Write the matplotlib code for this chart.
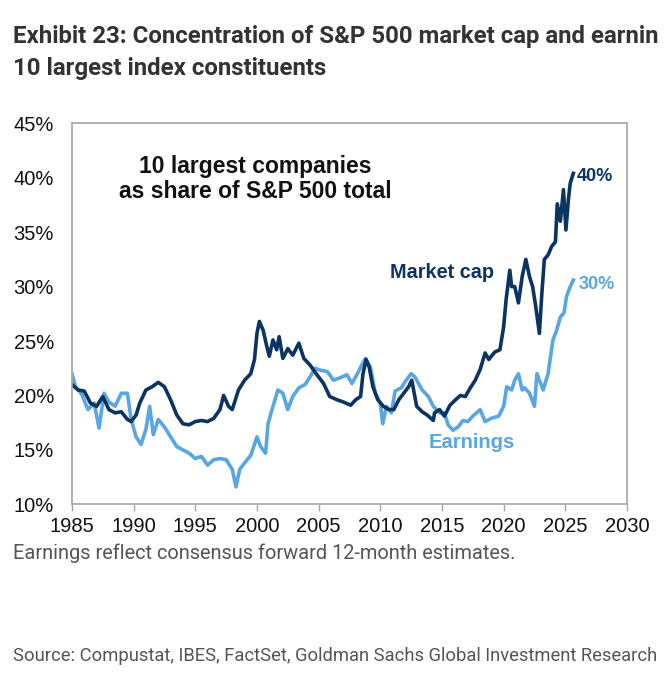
import matplotlib

matplotlib.use("Agg")

import matplotlib.pyplot as plt  # isort: skip

# Share of S&P 500 held by the 10 largest constituents (%)
mcap_years = [
    1985.0, 1985.5, 1986.0, 1986.5, 1987.0, 1987.5, 1988.0, 1988.5, 1989.0, 1989.5,
    1989.8, 1990.2, 1990.5, 1991.0, 1991.5, 1992.0, 1992.5, 1993.0, 1993.5, 1994.0,
    1994.5, 1995.0, 1995.5, 1996.0, 1996.5, 1997.0, 1997.3, 1997.7, 1998.0, 1998.5,
    1999.0, 1999.5, 1999.8, 2000.0, 2000.2, 2000.5, 2000.8, 2001.0, 2001.3, 2001.6,
    2001.8, 2002.1, 2002.5, 2002.9, 2003.4, 2003.8, 2004.3, 2004.8, 2005.4, 2005.9,
    2006.5, 2007.0, 2007.6, 2008.0, 2008.4, 2008.6, 2008.85, 2009.1, 2009.4, 2009.8,
    2010.25, 2010.7, 2011.1, 2011.5, 2011.9, 2012.3, 2012.55, 2012.95, 2013.4, 2013.8,
    2014.3, 2014.4, 2014.8, 2015.2, 2015.65, 2016.1, 2016.5, 2016.9, 2017.3, 2017.7,
    2018.1, 2018.5, 2018.8, 2019.0, 2019.3, 2019.7, 2020.0, 2020.2, 2020.5, 2020.65,
    2020.9, 2021.2, 2021.5, 2021.8, 2022.1, 2022.35, 2022.6, 2022.9, 2023.1, 2023.3,
    2023.6, 2023.9, 2024.2, 2024.35, 2024.6, 2024.85, 2025.05, 2025.25, 2025.4, 2025.65,
]
mcap_share = [
    21.0, 20.5, 20.4, 19.3, 19.0, 19.9, 18.7, 18.4, 18.5, 17.8,
    17.6, 18.2, 19.3, 20.5, 20.8, 21.2, 20.8, 19.6, 18.2, 17.4,
    17.3, 17.6, 17.7, 17.6, 17.9, 18.7, 20.0, 19.0, 18.7, 20.5,
    21.4, 22.0, 23.3, 25.7, 26.8, 26.0, 24.5, 23.6, 25.1, 24.2,
    25.4, 23.4, 24.3, 23.7, 24.8, 23.4, 22.8, 22.0, 21.1, 19.9,
    19.6, 19.4, 19.1, 19.6, 19.9, 22.0, 23.3, 22.6, 20.8, 19.6,
    19.0, 18.7, 18.7, 19.6, 20.2, 20.8, 21.4, 19.0, 18.5, 18.2,
    17.7, 18.4, 18.7, 18.1, 19.1, 19.6, 20.0, 19.9, 20.7, 21.4,
    22.4, 23.9, 23.3, 23.6, 24.0, 24.2, 26.3, 28.8, 31.5, 30.0,
    30.0, 28.5, 30.9, 32.5, 30.9, 30.0, 28.2, 25.7, 29.4, 32.5,
    32.9, 33.7, 34.1, 37.6, 36.0, 38.9, 35.2, 38.0, 39.5, 40.4,
]

earn_years = [
    1985.0, 1985.3, 1985.8, 1986.3, 1986.8, 1987.2, 1987.6, 1988.0, 1988.5, 1989.0,
    1989.5, 1989.8, 1990.2, 1990.6, 1991.0, 1991.3, 1991.6, 1992.0, 1992.5, 1993.0,
    1993.5, 1994.0, 1994.5, 1995.0, 1995.5, 1996.0, 1996.5, 1997.0, 1997.5, 1998.0,
    1998.3, 1998.6, 1999.0, 1999.5, 2000.0, 2000.3, 2000.7, 2000.9, 2001.3, 2001.7,
    2002.1, 2002.5, 2002.9, 2003.4, 2003.9, 2004.3, 2004.7, 2005.2, 2005.7, 2006.2,
    2006.7, 2007.3, 2007.7, 2008.1, 2008.5, 2008.8, 2009.2, 2009.6, 2010.0, 2010.2,
    2010.5, 2010.9, 2011.2, 2011.7, 2012.1, 2012.5, 2012.8, 2013.4, 2013.9, 2014.3,
    2014.8, 2015.2, 2015.5, 2015.9, 2016.3, 2016.7, 2017.1, 2017.5, 2018.1, 2018.5,
    2019.0, 2019.6, 2020.0, 2020.25, 2020.65, 2020.9, 2021.2, 2021.5, 2021.7, 2022.1,
    2022.5, 2022.7, 2022.9, 2023.2, 2023.6, 2024.0, 2024.3, 2024.6, 2024.9, 2025.1,
    2025.4, 2025.65,
]
earn_share = [
    22.0, 20.8, 20.1, 18.7, 19.3, 17.0, 20.2, 19.4, 19.0, 20.2,
    20.2, 17.8, 16.2, 15.5, 16.9, 19.0, 16.4, 17.8, 17.1, 16.2,
    15.3, 15.0, 14.7, 14.2, 14.4, 13.6, 14.1, 14.2, 14.1, 13.2,
    11.6, 13.2, 13.8, 14.5, 16.2, 15.3, 14.7, 17.4, 19.0, 20.5,
    20.2, 18.7, 19.9, 20.7, 21.0, 21.7, 22.5, 22.3, 22.2, 21.4,
    21.6, 21.9, 21.1, 21.9, 22.8, 23.4, 22.6, 20.2, 19.3, 17.4,
    19.0, 18.4, 20.4, 20.7, 21.4, 22.0, 21.7, 20.5, 19.9, 19.0,
    18.4, 18.4, 17.3, 16.8, 17.1, 17.7, 17.6, 18.1, 18.7, 17.6,
    17.9, 18.1, 19.0, 20.8, 20.5, 21.4, 22.0, 20.5, 20.7, 20.2,
    19.0, 22.0, 21.4, 20.5, 22.0, 25.1, 26.0, 27.2, 27.6, 29.1,
    30.0, 30.6,
]

NAVY = "#0b3461"
LIGHT = "#58a7e3"
CHART_FONT = "Liberation Sans"
PAGE_FONT = "Roboto"

fig = plt.figure(figsize=(6.66, 6.85), dpi=100)
ax = fig.add_axes([0.108, 0.2638, 0.8334, 0.5562])

ax.plot(earn_years, earn_share, color=LIGHT, lw=2.6, solid_joinstyle="round")
ax.plot(mcap_years, mcap_share, color=NAVY, lw=2.6, solid_joinstyle="round")

ax.set_xlim(1985, 2030)
ax.set_ylim(10, 45)
ax.set_xticks(range(1985, 2031, 5))
ax.set_yticks(range(10, 46, 5))
ax.set_yticklabels([f"{v}%" for v in range(10, 46, 5)])
for lab in ax.get_xticklabels() + ax.get_yticklabels():
    lab.set_fontfamily(CHART_FONT)
    lab.set_fontsize(14.5)
    lab.set_color("#111111")
ax.tick_params(axis="x", direction="out", length=5, width=1, color="#a6a6a6", pad=4)
ax.tick_params(axis="y", length=0, pad=13)
for sp in ax.spines.values():
    sp.set_color("#a6a6a6")
    sp.set_linewidth(1.2)

# annotations inside the plot
ax.text(1999.85, 39.85, "10 largest companies\nas share of S&P 500 total",
        ha="center", va="center", fontsize=16.5, fontweight="bold",
        family=CHART_FONT, color="#111111", linespacing=1.1)
ax.text(2015.0, 31.25, "Market cap", ha="center", va="center", fontsize=14.3,
        fontweight="bold", family=CHART_FONT, color=NAVY)
ax.text(2017.45, 15.65, "Earnings", ha="center", va="center", fontsize=14.5,
        fontweight="bold", family=CHART_FONT, color=LIGHT)
ax.text(2025.95, 40.07, "40%", ha="left", va="center", fontsize=13,
        fontweight="bold", family=CHART_FONT, color=NAVY)
ax.text(2026.1, 30.2, "30%", ha="left", va="center", fontsize=13,
        fontweight="bold", family=CHART_FONT, color=LIGHT)

# page title (cut at the right edge in the source page) and notes
fig.text(13 / 666, 1 - 36 / 685,
         "Exhibit 23: Concentration of S&P 500 market cap and earnin",
         ha="left", va="center", fontsize=17.3, fontweight="bold",
         family=PAGE_FONT, color="#333333")
fig.text(13 / 666, 1 - 69 / 685, "10 largest index constituents",
         ha="left", va="center", fontsize=17.3, fontweight="bold",
         family=PAGE_FONT, color="#333333")
fig.text(13 / 666, 1 - 553 / 685,
         "Earnings reflect consensus forward 12-month estimates.",
         ha="left", va="center", fontsize=14.4, family=PAGE_FONT, color="#555555")
fig.text(13 / 666, 1 - 656 / 685,
         "Source: Compustat, IBES, FactSet, Goldman Sachs Global Investment Research",
         ha="left", va="center", fontsize=13.2, family=PAGE_FONT, color="#555555")

fig.savefig("out.png", dpi=100)
